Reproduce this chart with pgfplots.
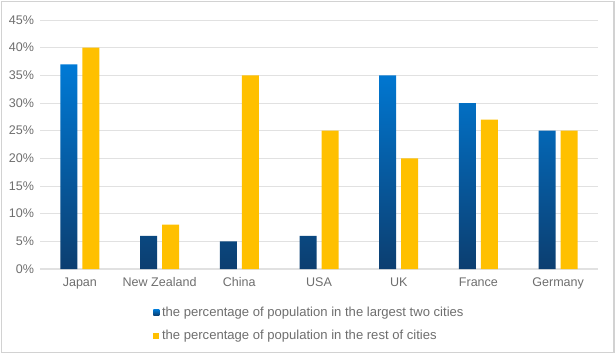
\documentclass[border=0pt]{standalone}
\usepackage{pgfplots}
\pgfplotsset{compat=1.18}
\usepackage{fontspec}
\setmainfont{Liberation Sans}
\definecolor{bluetop}{RGB}{0,122,214}
\definecolor{bluebot}{RGB}{12,62,112}
\definecolor{yel}{RGB}{255,192,0}
\definecolor{txt}{RGB}{110,110,110}
\definecolor{gridc}{RGB}{225,225,225}
\begin{document}
\begin{tikzpicture}
\path[use as bounding box] (-30pt,-63.75pt) rectangle (432pt,201.75pt);
\draw[gray!35, line width=0.8pt] (-29pt,-62.5pt) rectangle (430.5pt,200.5pt);
\begin{axis}[
  at={(0pt,0pt)}, anchor=south west,
  scale only axis,
  width=418.5pt, height=186.75pt,
  ymin=0, ymax=45,
  xmin=-0.5, xmax=6.5,
  ybar=3.75pt, bar width=12.75pt,
  xtick=data,
  xticklabels={Japan,New Zealand,China,USA,UK,France,Germany},
  ytick={0,5,...,45},
  yticklabel={\pgfmathprintnumber{\tick}\%},
  /pgf/number format/assume math mode=true,
  ymajorgrids, grid style={gridc, line width=0.6pt},
  axis x line*=bottom,
  y axis line style={draw=none},
  x axis line style={gridc, line width=0.8pt, -},
  major tick length=0pt,
  tick label style={font=\fontsize{9.4pt}{11pt}\selectfont, text=txt},
  xticklabel style={yshift=-3pt},
  yticklabel style={xshift=-1pt},
  legend style={at={(84.75pt,-26pt)}, anchor=north west, draw=none, fill=none,
    font=\fontsize{9.8pt}{11pt}\selectfont, text=txt, cells={anchor=west},
    row sep=5.2pt, inner sep=0pt},
  legend cell align=left,
  legend image code/.code={\path[#1, draw=none] (0pt,-2.3pt) rectangle (4.6pt,2.3pt);},
]
\addplot[draw=none, top color=bluetop, bottom color=bluebot] coordinates {(0,37) (1,6) (2,5) (3,6) (4,35) (5,30) (6,25)};
\addplot[draw=none, fill=yel] coordinates {(0,40) (1,8) (2,35) (3,25) (4,20) (5,27) (6,25)};
\legend{the percentage of population in the largest two cities, the percentage of population in the rest of cities}
\end{axis}
\end{tikzpicture}
\end{document}
